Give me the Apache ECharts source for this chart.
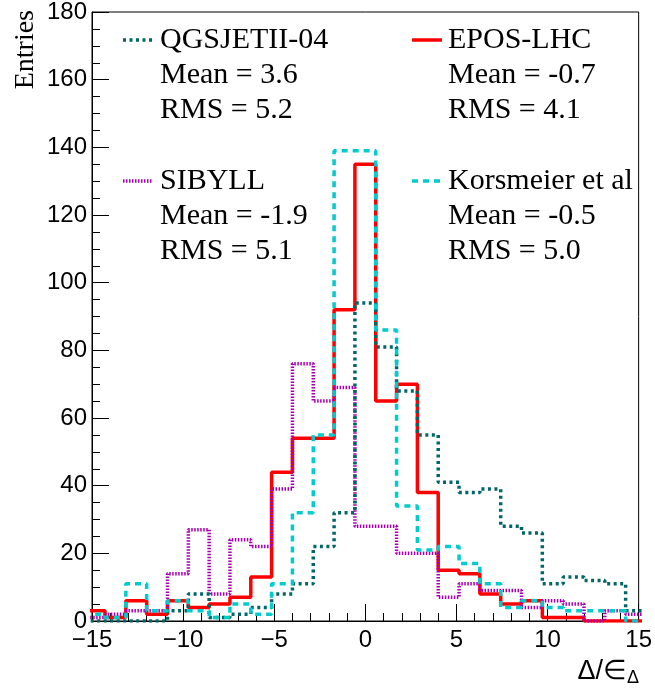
<!DOCTYPE html>
<head>
    <meta charset="utf-8">
    <title>ECharts</title>
    <style>body{margin:0;background:#fff}</style>
</head>
<body>
   <div id="main" style="width:655px;height:698px"></div>
   <script src="https://cdn.jsdelivr.net/npm/echarts@6/dist/echarts.min.js"></script>
   <script type="text/javascript">

    // histogram bins: width 8/7, bin j centred on j*8/7, j = -13 .. 13
    var binWidth = 8 / 7;
    var binIndex = [-13,-12,-11,-10,-9,-8,-7,-6,-5,-4,-3,-2,-1,0,1,2,3,4,5,6,7,8,9,10,11,12,13];

    var epos      = [3,1,6,2,6,4,5,7,13,44,54,54,92,135,65,70,38,15,14,8,5,6,1,1,0,0,0];
    var sibyll    = [1,2,3,3,14,27,8,24,22,39,76,65,69,28,28,20,20,7,11,9,9,4,6,5,0,3,2];
    var qgsjet    = [0,0,0,0,3,8,1,2,4,8,11,22,32,94,81,68,55,41,38,39,28,26,11,13,12,11,3];
    var korsmeier = [2,1,11,3,6,3,1,5,2,11,32,55,139,139,86,34,21,22,17,11,4,6,4,3,3,3,0];

    var xTicks = [-15, -10, -5, 0, 5, 10, 15];
    var yTicks = [0, 20, 40, 60, 80, 100, 120, 140, 160, 180];

    var seriesNames = ['EPOS-LHC', 'SIBYLL', 'QGSJETII-04', 'Korsmeier et al'];
    var seriesMean  = ['-0.7', '-1.9', '3.6', '-0.5'];
    var seriesRms   = ['4.1', '5.1', '5.2', '5.0'];

    // turn bin contents into step points at the bin edges
    function histPoints(vals) {
        var pts = [];
        for (var i = 0; i < binIndex.length; i++) {
            pts.push([(binIndex[i] - 0.5) * binWidth, vals[i]]);
        }
        var last = binIndex[binIndex.length - 1];
        pts.push([(last + 0.5) * binWidth, vals[vals.length - 1]]);
        return pts;
    }

    var styles = [
        {color: '#ff0000', width: 3.5, type: 'solid'},
        {color: '#a800b0', width: 3.5, type: [1.5, 1.5]},
        {color: '#006666', width: 3.5, type: [3, 3.5]},
        {color: '#00cccc', width: 3.5, type: [6, 5]}
    ];
    var values = [epos, sibyll, qgsjet, korsmeier];

    var serifFont = 'Liberation Serif';
    var sansFont = 'Liberation Sans';

    var myChart = echarts.init(document.getElementById('main'), null, {renderer: 'canvas'});

    function legendBlock(idx, lineX, textX, y0) {
        var st = styles[idx];
        var out = [];
        out.push({
            type: 'line',
            shape: {x1: lineX, y1: y0, x2: lineX + 30, y2: y0},
            style: {stroke: st.color, lineWidth: st.width, lineDash: st.type === 'solid' ? null : st.type}
        });
        var rows = [seriesNames[idx], 'Mean = ' + seriesMean[idx], 'RMS = ' + seriesRms[idx]];
        for (var r = 0; r < rows.length; r++) {
            out.push({
                type: 'text',
                x: textX, y: y0 + r * 35,
                style: {text: rows[r], font: '30px "' + serifFont + '"', fill: '#000',
                        textAlign: 'left', textVerticalAlign: 'middle'}
            });
        }
        return out;
    }

    var graphics = []
        .concat(legendBlock(2, 123, 160, 40))
        .concat(legendBlock(0, 412, 448, 40))
        .concat(legendBlock(1, 123, 160, 181))
        .concat(legendBlock(3, 412, 448, 181));

    graphics.push({
        type: 'text',
        x: 26, y: 10,
        rotation: Math.PI / 2,
        style: {text: 'Entries', font: '28px "' + serifFont + '"', fill: '#000',
                textAlign: 'right', textVerticalAlign: 'middle'}
    });
    graphics.push({
        type: 'text',
        right: 16, top: 658,
        style: {
            text: '{a|Δ/∈}{s|Δ}',
            rich: {
                a: {fontSize: 27, fontFamily: sansFont, color: '#000'},
                s: {fontSize: 18, fontFamily: sansFont, color: '#000', padding: [14, 0, 0, 0]}
            }
        }
    });

    var option = {
        backgroundColor: '#fff',
        animation: false,
        grid: {left: 92, right: 16, top: 11, bottom: 77, show: true,
               borderColor: '#000', borderWidth: 1, backgroundColor: 'transparent'},
        xAxis: {
            type: 'value', min: xTicks[0], max: xTicks[xTicks.length - 1], interval: 5,
            axisLine: {onZero: false, lineStyle: {color: '#000', width: 1}},
            axisTick: {inside: true, length: 17, lineStyle: {color: '#000'}},
            minorTick: {show: true, splitNumber: 5, length: 8, lineStyle: {color: '#000'}},
            splitLine: {show: false},
            axisLabel: {
                fontFamily: sansFont, fontSize: 24, color: '#000', margin: 7,
                showMinLabel: true, showMaxLabel: true,
                formatter: function (v) { return v < 0 ? '\u2212' + Math.abs(v) : String(v); }
            }
        },
        yAxis: {
            type: 'value', min: yTicks[0], max: yTicks[yTicks.length - 1], interval: 20,
            axisLine: {show: true, onZero: false, lineStyle: {color: '#000', width: 1}},
            axisTick: {inside: true, length: 17, lineStyle: {color: '#000'}},
            minorTick: {show: true, splitNumber: 4, length: 8, lineStyle: {color: '#000'}},
            splitLine: {show: false},
            axisLabel: {fontFamily: sansFont, fontSize: 24, color: '#000', margin: 5}
        },
        series: values.map(function (v, i) {
            return {
                name: seriesNames[i],
                type: 'line',
                step: 'end',
                data: histPoints(v),
                showSymbol: false,
                symbol: 'none',
                clip: true,
                lineStyle: styles[i],
                itemStyle: {color: styles[i].color},
                z: 2 + i
            };
        }),
        graphic: graphics
    };
    myChart.setOption(option);

</script>
</body>
